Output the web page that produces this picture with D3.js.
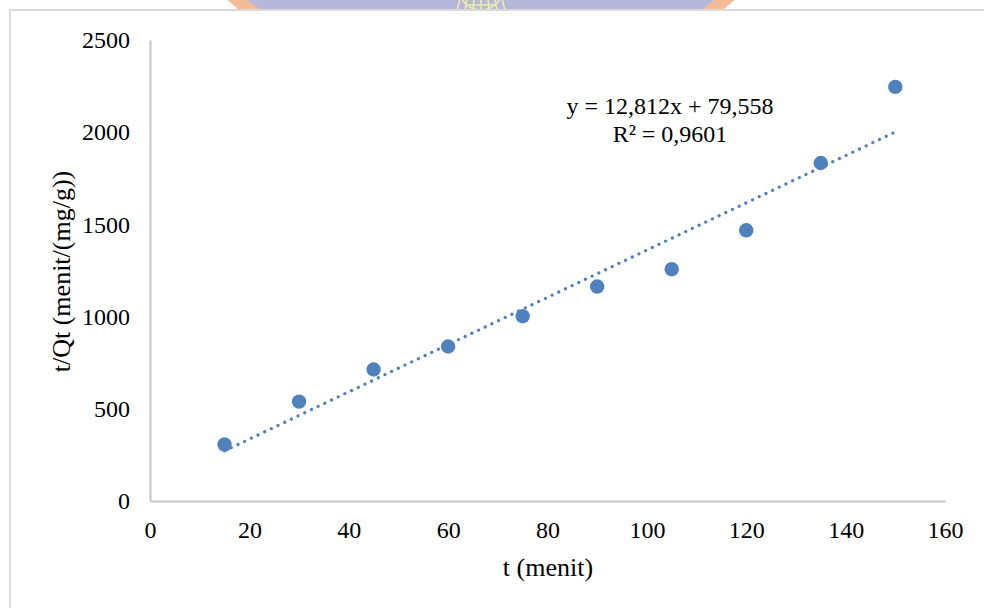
<!DOCTYPE html>
<html>
<head>
<meta charset="utf-8">
<script src="https://cdn.jsdelivr.net/npm/d3@7"></script>
<style>
  html, body { margin: 0; padding: 0; background: #ffffff; }
  svg { display: block; }
  text { font-family: "Liberation Serif", "Times New Roman", Times, serif; fill: #000; }
</style>
</head>
<body>
<svg id="chart" width="984" height="608"></svg>
<script>
// Pseudo-second-order kinetics: t/Qt against contact time t
const timeMinutes = [15, 30, 45, 60, 75, 90, 105, 120, 135, 150];
const tOverQt = [306, 539, 713, 838, 1002, 1163, 1257, 1468, 1833, 2246];

// Linear trendline as reported on the chart
const trendSlope = 12.812;
const trendIntercept = 79.558;
const trendR2 = "0,9601";
const trendLabel = ["y = 12,812x + 79,558", "R² = " + trendR2];

const xTicks = [0, 20, 40, 60, 80, 100, 120, 140, 160];
const yTicks = [0, 500, 1000, 1500, 2000, 2500];

const xTitle = "t (menit)";
const yTitle = "t/Qt (menit/(mg/g))";

const svg = d3.select("#chart");
const W = 984, H = 608;

// Faded emblem peeking above the chart frame
const emblem = svg.append("g").attr("opacity", 0.9);
const ecx = 481, ecy = -291;
emblem.append("circle").attr("cx", ecx).attr("cy", ecy).attr("r", 386).attr("fill", "#f3b48c");
emblem.append("circle").attr("cx", ecx).attr("cy", ecy).attr("r", 373).attr("fill", "#aeb0d8");
const globe = emblem.append("g").attr("fill", "none").attr("stroke", "#eeea9c").attr("stroke-width", 1.6);
globe.append("circle").attr("cx", ecx).attr("cy", -12).attr("r", 22);
globe.append("path").attr("d", d3.range(-3, 4).map(k =>
  `M${ecx + k * 6},${-12}L${ecx + k * 8},${10}`).join(""));
globe.append("path").attr("d", `M${ecx - 20},${-3}H${ecx + 20}M${ecx - 15},${5}H${ecx + 15}`);

// Chart frame
svg.append("rect")
  .attr("x", 10).attr("y", 10)
  .attr("width", W + 20).attr("height", H + 20)
  .attr("fill", "#ffffff")
  .attr("stroke", "#d9d9d9").attr("stroke-width", 2);

const x = d3.scaleLinear().domain([0, 160]).range([150, 945]);
const y = d3.scaleLinear().domain([0, 2500]).range([501, 40]);

const axisColor = "#c4c4c4";

const xAxis = svg.append("g")
  .attr("transform", `translate(0,${y(0)})`)
  .call(d3.axisBottom(x).tickValues(xTicks).tickSize(0).tickPadding(20).tickFormat(d3.format("d")));
const yAxis = svg.append("g")
  .attr("transform", `translate(${x(0)},0)`)
  .call(d3.axisLeft(y).tickValues(yTicks).tickSize(0).tickPadding(20).tickFormat(d3.format("d")));

[xAxis, yAxis].forEach(g => {
  g.select(".domain").attr("stroke", axisColor).attr("stroke-width", 2);
  g.selectAll(".tick text")
    .attr("font-family", '"Liberation Serif", "Times New Roman", serif')
    .attr("font-size", 24)
    .attr("fill", "#000");
});

// Axis titles
svg.append("text")
  .attr("x", 548).attr("y", 576)
  .attr("text-anchor", "middle")
  .attr("font-size", 26)
  .text(xTitle);

svg.append("text")
  .attr("transform", `translate(70,${(y(0) + y(2500)) / 2 + 1}) rotate(-90)`)
  .attr("text-anchor", "middle")
  .attr("font-size", 26)
  .text(yTitle);

// Trendline from the fitted equation
const x0 = d3.min(timeMinutes), x1 = d3.max(timeMinutes);
const trend = [x0, x1].map(t => [t, trendSlope * t + trendIntercept]);
svg.append("path")
  .datum(trend)
  .attr("d", d3.line().x(d => x(d[0])).y(d => y(d[1])))
  .attr("fill", "none")
  .attr("stroke", "#4f81bd")
  .attr("stroke-width", 3.2)
  .attr("stroke-linecap", "round")
  .attr("stroke-dasharray", "0.1 7.3");

// Data points
svg.append("g")
  .selectAll("circle")
  .data(timeMinutes.map((t, i) => [t, tOverQt[i]]))
  .join("circle")
  .attr("cx", d => x(d[0]))
  .attr("cy", d => y(d[1]))
  .attr("r", 7.2)
  .attr("fill", "#4f81bd");

// Equation label
const eq = svg.append("text")
  .attr("x", 670).attr("y", 114)
  .attr("text-anchor", "middle")
  .attr("font-size", 24);
eq.selectAll("tspan")
  .data(trendLabel)
  .join("tspan")
  .attr("x", 670)
  .attr("dy", (d, i) => i === 0 ? 0 : 28)
  .text(d => d);
</script>
</body>
</html>
